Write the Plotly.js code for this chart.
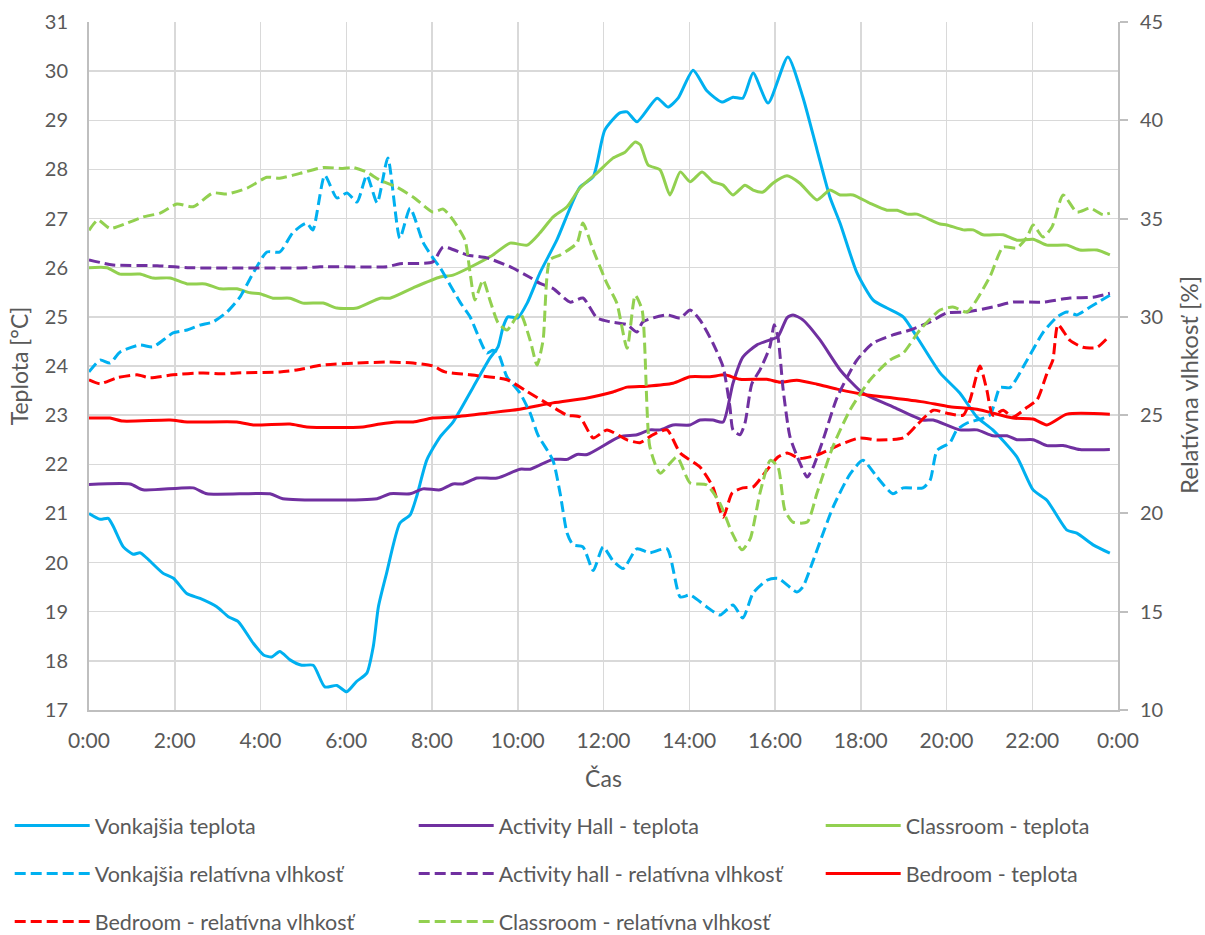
<!DOCTYPE html>
<html>
<head>
<meta charset="utf-8">
<script src="https://cdn.plot.ly/plotly-3.0.1.min.js"></script>
<style>
  html, body { margin: 0; padding: 0; background: #ffffff; }
  #chart { width: 1205px; height: 935px; }
</style>
</head>
<body>
<div id="chart"></div>
<script>
// ---- Axis tick labels ----
var xTickVals = [0, 2, 4, 6, 8, 10, 12, 14, 16, 18, 20, 22, 24];
var xTickText = ["0:00", "2:00", "4:00", "6:00", "8:00", "10:00", "12:00", "14:00", "16:00", "18:00", "20:00", "22:00", "0:00"];

// ---- Titles ----
var xTitle = "Čas";
var yTitle = "Teplota [°C]";
var y2Title = "Relatívna vlhkosť [%]";

// ---- Series names ----
var names = [
  "Vonkajšia teplota", "Activity Hall - teplota", "Classroom - teplota",
  "Vonkajšia relatívna vlhkosť", "Activity hall - relatívna vlhkosť", "Bedroom - teplota",
  "Bedroom - relatívna vlhkosť", "Classroom - relatívna vlhkosť"
];

// ---- Vonkajšia teplota (°C) ----
var tVonkT = [0,0.26,0.45,0.57,0.80,1.03,1.19,1.35,1.73,1.97,2.28,2.59,2.98,3.25,3.48,3.83,4.07,4.26,4.45,4.69,4.96,5.23,5.50,5.78,6.01,6.24,6.48,6.63,6.75,6.94,7.25,7.49,7.64,7.88,8.19,8.49,8.96,9.35,9.54,9.66,9.77,10.0,10.22,10.52,10.91,11.45,11.76,12.03,12.38,12.55,12.78,13.25,13.50,13.74,14.09,14.41,14.76,15.02,15.25,15.49,15.84,16.30,16.65,16.98,17.28,17.52,17.91,18.29,18.61,18.99,19.31,19.85,20.31,20.71,21.08,21.64,22.02,22.34,22.81,23.04,23.42,23.81];
var vonkT = [21.0,20.88,20.9,20.73,20.32,20.17,20.2,20.09,19.78,19.68,19.37,19.27,19.1,18.9,18.8,18.36,18.12,18.08,18.19,18.02,17.91,17.91,17.47,17.5,17.37,17.58,17.75,18.29,19.1,19.78,20.8,20.97,21.34,22.09,22.56,22.86,23.57,24.16,24.39,24.8,25.0,24.98,25.28,25.9,26.56,27.64,27.85,28.8,29.15,29.17,28.97,29.45,29.27,29.45,30.02,29.6,29.37,29.47,29.45,29.96,29.35,30.29,29.47,28.4,27.44,26.9,25.9,25.34,25.18,25.0,24.59,23.86,23.45,22.96,22.7,22.15,21.48,21.27,20.66,20.6,20.36,20.19];

// ---- Activity Hall - teplota (°C) ----
var tActT = [0,0.96,1.26,2.43,2.75,4.22,4.52,6.72,7.02,7.49,7.79,8.19,8.49,8.72,9.05,9.52,10.05,10.29,10.82,11.15,11.38,11.62,12.38,12.78,13.08,13.32,13.62,14.01,14.25,14.55,14.79,15.02,15.25,15.58,15.88,16.07,16.28,16.42,16.65,17.05,17.52,18.05,18.75,19.45,19.69,20.31,20.71,21.08,21.41,21.64,22.02,22.34,22.72,23.11,23.81];
var actT = [21.59,21.6,21.48,21.52,21.4,21.4,21.3,21.3,21.4,21.4,21.5,21.48,21.6,21.6,21.72,21.72,21.9,21.9,22.1,22.1,22.2,22.2,22.56,22.6,22.7,22.7,22.8,22.8,22.9,22.9,22.86,23.65,24.18,24.43,24.53,24.6,24.98,25.04,24.94,24.53,23.92,23.45,23.17,22.9,22.9,22.7,22.7,22.58,22.58,22.5,22.5,22.38,22.38,22.3,22.3];

// ---- Classroom - teplota (°C) ----
var tClsT = [0,0.42,0.72,1.19,1.49,1.89,2.29,2.71,3.06,3.45,3.76,3.99,4.29,4.69,4.99,5.46,5.78,6.25,6.79,7.02,7.56,8.19,8.49,8.89,9.42,9.82,10.22,10.52,10.82,11.15,11.45,11.85,12.22,12.50,12.74,12.86,13.04,13.32,13.55,13.79,14.02,14.30,14.55,14.79,15.02,15.30,15.49,15.72,15.95,16.28,16.58,16.98,17.28,17.52,17.82,18.22,18.61,18.85,19.08,19.31,19.85,20.01,20.39,20.62,20.85,21.32,21.64,22.02,22.34,22.81,23.11,23.51,23.81];
var clsT = [26.0,26.0,25.87,25.87,25.79,25.79,25.67,25.67,25.57,25.57,25.49,25.47,25.38,25.38,25.28,25.28,25.18,25.18,25.38,25.38,25.59,25.81,25.85,26.01,26.26,26.5,26.46,26.71,27.03,27.24,27.62,27.93,28.23,28.35,28.56,28.5,28.09,27.99,27.48,27.95,27.75,27.95,27.75,27.68,27.48,27.68,27.58,27.54,27.72,27.87,27.72,27.38,27.58,27.48,27.48,27.31,27.17,27.17,27.09,27.09,26.89,26.87,26.77,26.77,26.67,26.67,26.56,26.58,26.46,26.46,26.36,26.36,26.26];

// ---- Vonkajšia relatívna vlhkosť (%) ----
var tVonkRH = [0,0.26,0.49,0.72,1.19,1.49,1.96,2.29,2.59,2.89,3.22,3.52,3.83,4.15,4.45,4.76,5.08,5.22,5.50,5.78,6.02,6.25,6.48,6.72,6.97,7.25,7.49,7.79,8.02,8.19,8.65,8.89,9.28,9.42,9.54,9.75,10.05,10.29,10.47,10.82,10.99,11.15,11.29,11.52,11.76,11.99,12.22,12.46,12.78,13.08,13.48,13.79,14.02,14.41,14.72,15.02,15.25,15.49,15.81,16.07,16.51,16.65,16.89,17.35,17.75,18.05,18.38,18.75,18.99,19.45,19.62,19.78,20.08,20.24,20.48,21.01,21.25,21.48,21.88,22.25,22.58,22.81,23.04,23.35,23.81];
var vonkRH = [27.2,27.8,27.65,28.2,28.57,28.47,29.18,29.33,29.58,29.74,30.25,31.0,32.23,33.3,33.3,34.3,34.77,34.42,37.2,36.05,36.3,35.84,37.2,35.8,38.08,34.0,35.53,33.8,33.0,32.5,30.76,29.99,28.16,28.3,28.16,26.94,26.13,25.1,24.0,22.7,21.0,19.0,18.4,18.3,17.1,18.3,17.6,17.2,18.2,18.0,18.2,15.75,15.85,15.24,14.83,15.34,14.68,15.95,16.6,16.7,16.0,16.26,17.6,20.3,22.0,22.7,21.85,21.0,21.3,21.3,21.7,23.2,23.6,24.25,24.6,25.0,26.4,26.4,27.8,29.2,30.0,30.25,30.1,30.5,31.1];

// ---- Activity hall - relatívna vlhkosť (%) ----
var tActRH = [0,0.56,1.59,2.36,5.08,5.39,6.95,7.25,8.02,8.26,8.82,9.28,9.82,10.29,10.52,10.82,11.22,11.52,11.85,12.15,12.55,12.78,12.92,13.48,13.79,14.02,14.25,14.55,14.79,14.95,15.02,15.18,15.30,15.46,15.65,15.88,15.98,16.07,16.19,16.35,16.58,16.75,16.89,17.12,17.45,17.91,18.29,18.75,19.15,19.62,20.01,20.48,21.08,21.55,22.25,22.88,23.42,23.81];
var actRH = [32.9,32.64,32.6,32.5,32.5,32.55,32.55,32.7,32.8,33.55,33.15,33.0,32.55,32.0,31.7,31.45,30.75,30.96,29.94,29.75,29.6,29.23,29.75,30.1,29.94,30.35,29.84,28.67,27.45,25.4,24.25,24.0,24.6,26.6,27.3,28.47,29.6,28.97,26.3,23.9,22.57,21.85,22.36,23.74,25.9,27.8,28.67,29.08,29.33,29.74,30.2,30.25,30.5,30.75,30.75,30.96,31.0,31.2];

// ---- Bedroom - teplota (°C) ----
var tBedT = [0,0.49,0.79,1.89,2.29,3.45,3.83,4.69,5.08,6.39,6.79,7.18,7.56,8.02,8.49,9.28,10.05,10.82,11.62,12.22,12.55,13.01,13.62,14.02,14.48,14.83,15.18,15.81,16.12,16.51,16.98,17.45,18.15,18.75,19.45,20.08,20.71,21.55,22.02,22.34,22.81,23.81];
var bedT = [22.94,22.94,22.88,22.9,22.86,22.86,22.8,22.82,22.76,22.76,22.82,22.86,22.86,22.94,22.96,23.04,23.12,23.25,23.35,23.47,23.57,23.59,23.65,23.78,23.78,23.82,23.73,23.73,23.67,23.71,23.63,23.53,23.41,23.35,23.27,23.17,23.12,22.94,22.92,22.8,23.02,23.02];

// ---- Bedroom - relatívna vlhkosť (%) ----
var tBedRH = [0,0.26,0.65,1.12,1.42,1.96,2.66,3.06,3.45,4.45,4.85,5.46,6.25,6.95,7.56,8.02,8.3,8.89,9.75,10.22,10.68,11.15,11.45,11.76,12.08,12.55,12.85,13.15,13.48,13.79,14.25,14.55,14.79,15.0,15.25,15.49,15.81,16.07,16.28,16.58,16.98,17.52,17.98,18.38,18.99,19.31,19.69,20.01,20.39,20.55,20.78,20.94,21.08,21.32,21.55,21.88,22.11,22.34,22.48,22.60,22.88,23.18,23.51,23.81];
var bedRH = [26.8,26.6,26.9,27.05,26.9,27.05,27.15,27.1,27.15,27.2,27.3,27.55,27.65,27.7,27.65,27.5,27.2,27.05,26.8,26.2,25.6,25.0,24.9,23.84,24.25,23.74,23.6,24.0,24.25,23.07,22.36,21.35,19.8,21.04,21.3,21.35,22.2,22.87,23.07,22.8,22.97,23.5,23.84,23.74,23.84,24.5,25.25,25.1,25.0,25.77,27.5,26.28,25.0,25.25,24.9,25.4,25.77,27.1,27.8,29.6,28.8,28.45,28.45,29.05];

// ---- Classroom - relatívna vlhkosť (%) ----
var tClsRH = [0,0.21,0.49,0.89,1.26,1.66,2.05,2.43,2.89,3.22,3.69,4.15,4.45,4.92,5.46,5.92,6.16,6.48,6.79,7.18,7.56,8.02,8.26,8.49,8.77,8.89,9.0,9.19,9.35,9.54,9.75,10.05,10.29,10.45,10.59,10.75,10.99,11.38,11.52,11.76,12.08,12.31,12.55,12.74,12.90,13.08,13.32,13.71,14.02,14.41,14.72,15.0,15.23,15.42,15.65,15.89,16.07,16.23,16.42,16.75,16.98,17.35,17.75,18.22,18.68,18.99,19.38,19.85,20.15,20.48,21.01,21.32,21.64,21.88,22.02,22.25,22.46,22.72,23.04,23.35,23.65,23.81];
var clsRH = [34.4,34.93,34.5,34.77,35.08,35.28,35.74,35.6,36.3,36.25,36.55,37.1,37.05,37.3,37.6,37.55,37.6,37.36,36.95,36.6,36.1,35.33,35.48,34.93,33.9,32.2,30.86,31.87,30.86,29.7,29.33,30.2,28.8,27.55,28.8,32.9,33.15,33.75,34.77,33.4,31.7,30.7,28.4,31.1,30.35,23.4,22.05,22.87,21.55,21.45,20.5,19.0,18.15,18.7,21.04,22.7,22.36,20.17,19.56,19.56,21.04,23.4,25.26,26.8,27.8,28.16,29.33,30.35,30.5,30.25,32.03,33.55,33.5,34.06,34.67,34.06,34.57,36.2,35.33,35.53,35.2,35.28];

// ---- Styling ----
var cBlue = "#00B0F0", cPurple = "#7030A0", cGreen = "#92D050", cRed = "#FF0000";
var FONT = "Lato, 'Open Sans', sans-serif";
var txtColor = "#595959";
var gridColor = "#d9d9d9";
var axisLineColor = "#bfbfbf";
var dashPat = "11px,5px";

function mk(x, y, name, color, dashed, yaxis, legendId) {
  return {
    type: "scatter", mode: "lines", x: x, y: y, name: name,
    yaxis: yaxis, legend: legendId, legendgroup: name, hoverinfo: "skip",
    line: { color: color, width: 3, dash: dashed ? dashPat : "solid", shape: "spline", smoothing: 0.6 }
  };
}

// legend columns: col1 = legend, col2 = legend2, col3 = legend3
var traces = [
  mk(tVonkT, vonkT, names[0], cBlue, false, "y", "legend"),
  mk(tActT, actT, names[1], cPurple, false, "y", "legend2"),
  mk(tClsT, clsT, names[2], cGreen, false, "y", "legend3"),
  mk(tVonkRH, vonkRH, names[3], cBlue, true, "y2", "legend"),
  mk(tActRH, actRH, names[4], cPurple, true, "y2", "legend2"),
  mk(tBedT, bedT, names[5], cRed, false, "y", "legend3"),
  mk(tBedRH, bedRH, names[6], cRed, true, "y2", "legend"),
  mk(tClsRH, clsRH, names[7], cGreen, true, "y2", "legend2")
];

var PW = 1029, PH = 688, PL = 89, PB = 710;
function legendCfg(xPx) {
  return {
    orientation: "v", x: (xPx - PL) / PW, xanchor: "left",
    y: (PB - 805) / PH, yanchor: "top",
    font: { family: FONT, size: 21.5, color: txtColor },
    bgcolor: "rgba(0,0,0,0)", borderwidth: 0, itemwidth: 75,
    traceorder: "grouped", tracegroupgap: 17
  };
}

var layout = {
  width: 1205, height: 935,
  margin: { l: 89, r: 87, t: 22, b: 225, pad: 0, autoexpand: false },
  paper_bgcolor: "#ffffff", plot_bgcolor: "#ffffff",
  font: { family: FONT, size: 20, color: txtColor },
  showlegend: true,
  xaxis: {
    range: [0, 24], tickmode: "array", tickvals: xTickVals, ticktext: xTickText,
    showgrid: true, gridcolor: gridColor, gridwidth: 1.5,
    showline: true, linecolor: axisLineColor, linewidth: 2,
    zeroline: false, ticks: "", automargin: false, ticklabelstandoff: 11,
    tickfont: { family: FONT, size: 21, color: txtColor },
    title: { text: xTitle, font: { family: FONT, size: 23, color: txtColor }, standoff: 20 }
  },
  yaxis: {
    range: [17, 31], dtick: 1, tick0: 17,
    showgrid: true, gridcolor: gridColor, gridwidth: 1.5,
    showline: true, linecolor: axisLineColor, linewidth: 2,
    zeroline: false, ticks: "", automargin: false, ticklabelstandoff: 15,
    tickfont: { family: FONT, size: 20, color: txtColor },
    title: { text: yTitle, font: { family: FONT, size: 23, color: txtColor }, standoff: 10 }
  },
  yaxis2: {
    range: [10, 45], dtick: 5, tick0: 10, overlaying: "y", side: "right",
    showgrid: false, showline: true, linecolor: axisLineColor, linewidth: 2,
    zeroline: false, ticks: "outside", ticklen: 8, tickwidth: 2, tickcolor: axisLineColor,
    automargin: false, ticklabelstandoff: 8,
    tickfont: { family: FONT, size: 20, color: txtColor }
  },
  annotations: [{
    text: y2Title, textangle: -90, showarrow: false,
    xref: "paper", yref: "paper", x: (1189 - PL) / PW, y: (PB - 385) / PH,
    xanchor: "center", yanchor: "middle",
    font: { family: FONT, size: 24, color: txtColor }
  }],
  legend: legendCfg(9.7),
  legend2: legendCfg(413.7),
  legend3: legendCfg(820.7)
};

Plotly.newPlot("chart", traces, layout, { staticPlot: true, displayModeBar: false });
</script>
</body>
</html>
